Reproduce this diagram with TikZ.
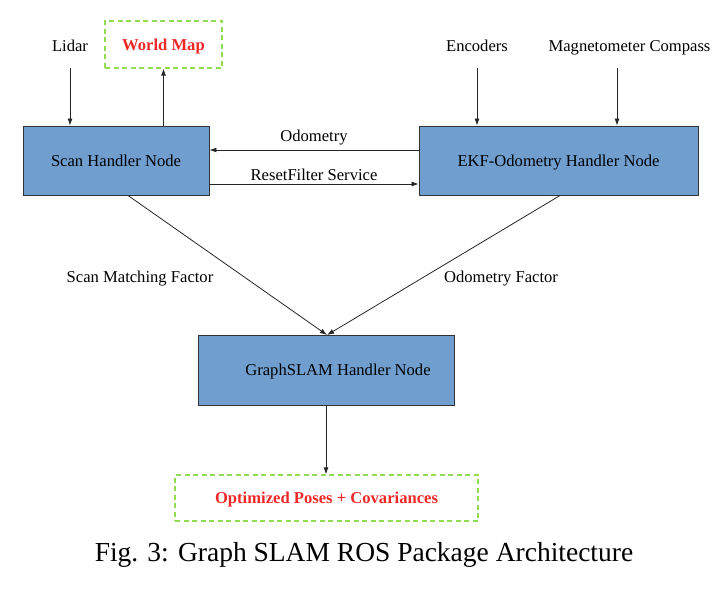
\documentclass[tikz,border=0pt]{standalone}
\usepackage{fontspec}
\setmainfont{Liberation Serif}
\usetikzlibrary{arrows.meta}
\definecolor{boxblue}{RGB}{112,158,207}
\definecolor{dashgreen}{RGB}{146,220,80}
\definecolor{redtxt}{RGB}{240,40,40}
\tikzset{
  procbox/.style={draw=black!80, line width=0.9pt, fill=boxblue, inner sep=0pt, text depth=0pt, font=\fontsize{16.6}{19}\selectfont},
  outbox/.style={draw=dashgreen, dashed, dash pattern=on 5pt off 3.5pt, line width=1.3pt, inner sep=0pt, text depth=0pt, text=redtxt, font=\fontsize{16.6}{19}\selectfont\bfseries},
  lbl/.style={font=\fontsize{16.6}{19}\selectfont, inner sep=1pt, text depth=0pt},
  arr/.style={-{Latex[length=7pt,width=5pt]}, line width=0.8pt, black!85}
}
\begin{document}
\begin{tikzpicture}[x=1pt,y=-1pt]
\useasboundingbox (0,0) rectangle (720,594);
% main boxes
\node[procbox, minimum width=186pt, minimum height=69pt] (scan) at (116,160.5) {Scan Handler Node};
\node[procbox, minimum width=279pt, minimum height=69pt] (ekf) at (558.5,160.5) {EKF-Odometry Handler Node};
\node[procbox, minimum width=256pt, minimum height=70pt] (gs) at (326,370) {};
\node[lbl] (gstext) at (338,370) {GraphSLAM Handler Node};
% output boxes
\node[outbox, minimum width=117pt, minimum height=47pt] (wm) at (163.5,44.5) {World Map};
\node[outbox, minimum width=303pt, minimum height=46pt] (opt) at (326.5,498) {Optimized Poses + Covariances};
% inputs
\node[lbl] (lidar) at (70,46) {Lidar};
\node[lbl] (enc) at (477,46) {Encoders};
\node[lbl] (mag) at (629.5,46) {Magnetometer Compass};
\coordinate (lidarb) at (70,68);
\coordinate (encb) at (477,68);
\coordinate (magb) at (617,68);
\draw[arr] (lidarb) -- (lidarb |- scan.north);
\draw[arr] (encb) -- (encb |- ekf.north);
\draw[arr] (magb) -- (magb |- ekf.north);
\draw[arr] (163.5,126) coordinate (wmb) -- (wmb |- wm.south);
% between handlers
\draw[arr] (ekf.west |- 0,150) -- (scan.east |- 0,150);
\node[lbl] (odo) at (314,136) {Odometry};
\draw[arr] (scan.east |- 0,184) -- (ekf.west |- 0,184);
\node[lbl] (rst) at (314,174.5) {ResetFilter Service};
% factors
\coordinate (sfrom) at (128,195.5);
\coordinate (efrom) at (560,195.5);
\coordinate (gtop) at (327,335);
\draw[arr] (sfrom) -- (gtop);
\draw[arr] (efrom) -- (gtop);
\node[lbl] (smf) at (140,277) {Scan Matching Factor};
\node[lbl] (odf) at (501,277) {Odometry Factor};
% output
\coordinate (gsb) at (326,405);
\draw[arr] (gsb) -- (gsb |- opt.north);
% caption
\node[font=\fontsize{27.5}{32}\selectfont, text depth=0pt] (cap) at (364,552) {Fig. 3: Graph SLAM ROS Package Architecture};
\end{tikzpicture}
\end{document}
